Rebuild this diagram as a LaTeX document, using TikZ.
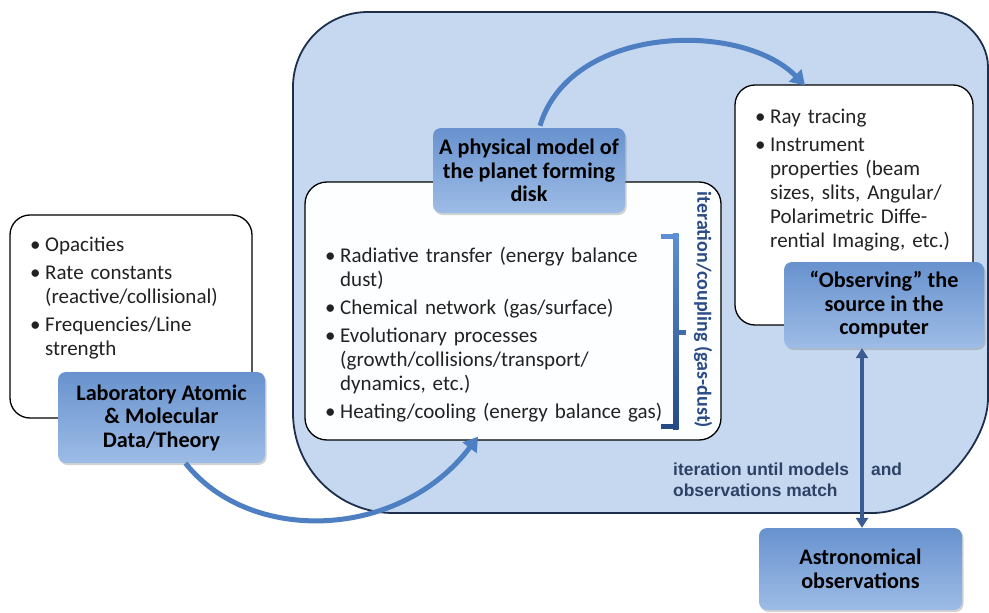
\documentclass[tikz,border=0pt]{standalone}
\usepackage{fontspec}
\setmainfont{Carlito}
\newfontfamily\arialfont{Liberation Sans}
\usetikzlibrary{arrows.meta,shadows}
\definecolor{bigfill}{HTML}{C6D8EF}
\definecolor{bigline}{HTML}{1E2F4D}
\definecolor{arrowblue}{HTML}{4D7FC2}
\definecolor{darkarrow}{HTML}{3A5C92}
\definecolor{nodetop}{HTML}{6892CE}
\definecolor{nodebot}{HTML}{9DBCE6}
\definecolor{txt}{HTML}{222222}
\definecolor{vtxt}{HTML}{2C4C86}
\definecolor{lbltxt}{HTML}{2D4266}
\definecolor{brtop}{HTML}{5E8FD4}
\definecolor{brbot}{HTML}{254A86}
\newcommand{\bitem}[1]{\par\hangindent=15pt\hangafter=1\noindent\makebox[15pt][l]{\textbullet}#1}
\begin{document}
\begin{tikzpicture}[x=1pt,y=-1pt,
  whitebox/.style={rectangle, rounded corners=20pt, draw=black, line width=1.3pt, fill=white, inner sep=0pt},
  bluenode/.style={rectangle, rounded corners=8pt, draw=none, top color=nodetop, bottom color=nodebot,
    drop shadow={opacity=0.35, shadow xshift=1.5pt, shadow yshift=-2pt},
    font=\fontsize{22.2}{23.5}\selectfont\bfseries, align=center, text=black, inner sep=0pt},
  listtext/.style={inner sep=0pt, text=txt, font=\fontsize{21}{24}\selectfont},
  curvearrow/.style={draw=arrowblue, line width=5pt, -{Triangle[length=14pt,width=17pt]}},
  dblarrow/.style={draw=darkarrow, line width=3.5pt, {Triangle[length=10pt,width=12pt]}-{Triangle[length=10pt,width=12pt]}}
]
\useasboundingbox (0,0) rectangle (989,613);
\fill[white] (0,0) rectangle (989,613);
% big rounded region
\draw[fill=bigfill, draw=bigline, line width=1.8pt]
  (293,87) .. controls (293,45.4) and (326.4,12) .. (368,12)
  -- (933,12) .. controls (957.6,12) and (988,36.4) .. (988,67)
  -- (988,398) .. controls (988,449.5) and (924.5,513) .. (873,513)
  -- (393,513) .. controls (337.8,513) and (293,468.2) .. (293,413) -- cycle;
% white boxes
\node[whitebox, minimum width=242pt, minimum height=203pt] (labbox) at (131,316.5) {};
\node[whitebox, minimum width=416pt, minimum height=258pt, rounded corners=22pt, fill=white!97!bigfill] (mid) at (513,311) {};
\node[whitebox, minimum width=238pt, minimum height=240pt] (rbox) at (854,205) {};
% list texts
\node[listtext, anchor=north west, text width=225pt] (labtext) at (30,227.5) {\raggedright
\bitem{Opacities}
\par\vspace{4pt}\bitem{Rate constants\newline(reactive/collisional)}
\par\vspace{4pt}\bitem{Frequencies/Line\newline strength}\par};
\node[listtext, anchor=north west, text width=345pt] (midtext) at (325,238.5) {\raggedright
\bitem{Radiative transfer (energy balance\newline dust)}
\par\vspace{4pt}\bitem{Chemical network (gas/surface)}
\par\vspace{4pt}\bitem{Evolutionary processes\newline(growth/collisions/transport/\newline dynamics, etc.)}
\par\vspace{4pt}\bitem{Heating/cooling (energy balance gas)}\par};
\node[listtext, anchor=north west, text width=225pt] (rtext) at (755,99.5) {\raggedright
\bitem{Ray tracing}
\par\vspace{4pt}\bitem{Instrument\newline properties (beam\newline sizes, slits, Angular/\newline Polarimetric Diffe-\newline rential Imaging, etc.)}\par};
% bracket
\shade[top color=brtop, bottom color=brbot] (673,233.5) rectangle (678.5,429);
\fill[brtop] (661,233.5) rectangle (678.5,239);
\fill[brbot] (661,423.5) rectangle (678.5,429);
\fill[arrowblue!85!black] (676,329.5) rectangle (686,334.5);
\node[rotate=-90, text=vtxt, font=\fontsize{20}{22}\selectfont\bfseries, inner sep=0pt] (vlabel) at (703,310) {iteration/coupling (gas-dust)};
% blue nodes
\node[bluenode, minimum width=192pt, minimum height=85pt] (phys) at (529,170.5) {A physical model of\\the planet forming\\disk};
\node[bluenode, minimum width=207pt, minimum height=91pt] (lab) at (161.5,417.5) {Laboratory Atomic\\\& Molecular\\Data/Theory};
\node[bluenode, minimum width=200pt, minimum height=86pt] (obs) at (884,305) {“Observing” the\\source in the\\computer};
\node[bluenode, minimum width=203pt, minimum height=82pt] (astro) at (860.5,569) {Astronomical\\observations};
% curved arrows
\draw[curvearrow] ([xshift=11pt,yshift=2pt]phys.north) .. controls (570,25) and (740,20) .. ([xshift=-49pt,yshift=-1pt]rbox.north);
\draw[curvearrow] ([xshift=24pt]lab.south) .. controls (250,545) and (400,540) .. ([xshift=-35pt,yshift=4pt]mid.south);
% double arrow
\draw[dblarrow] ([xshift=-22pt]obs.south) -- ([xshift=1.5pt]astro.north);
% label
\node[anchor=north west, inner sep=0pt, align=left, text=lbltxt, font=\arialfont\fontsize{17.4}{20.5}\selectfont\bfseries] (iterlbl) at (673,463) {iteration until models\hspace{22pt}and\\observations match};
\end{tikzpicture}
\end{document}
